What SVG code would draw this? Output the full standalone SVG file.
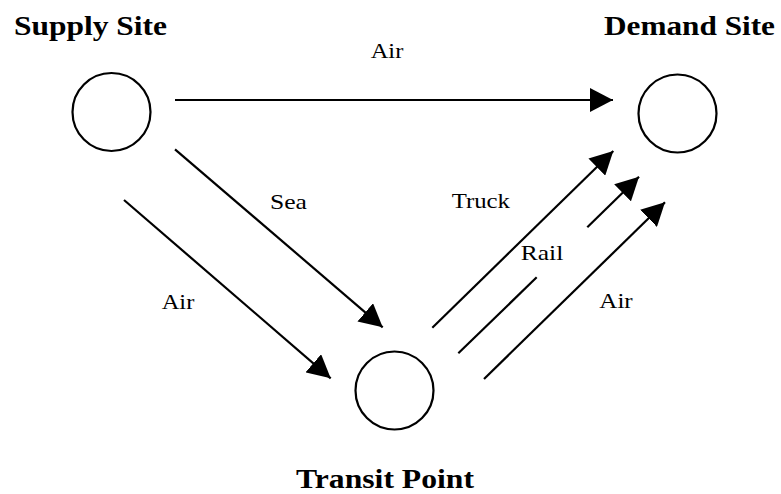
<svg xmlns="http://www.w3.org/2000/svg" width="781" height="494" viewBox="0 0 781 494">
<style>
.node{fill:none;stroke:#000;stroke-width:2.2}
.title{font-family:'Liberation Serif','DejaVu Serif','Times New Roman',serif;font-weight:bold;font-size:28px;fill:#000}
.lbl{font-family:'Liberation Serif','DejaVu Serif','Times New Roman',serif;font-size:21px;fill:#000}
.edge{stroke:#000;stroke-width:2.2;fill:none;marker-end:url(#ah)}
.seg{stroke:#000;stroke-width:2.2;fill:none}
</style>
<defs>
<marker id="ah" markerUnits="userSpaceOnUse" markerWidth="24" markerHeight="24" refX="23" refY="12" orient="auto" viewBox="0 0 24 24">
<path d="M0,0 L23,12 L0,24 Z" fill="#000"/>
</marker>
</defs>
<rect width="781" height="494" fill="#fff"/>
<g id="supply">
<circle class="node" cx="111.5" cy="112" r="39"/>
<text class="title" x="14" y="35" textLength="153" lengthAdjust="spacingAndGlyphs">Supply Site</text>
</g>
<g id="demand">
<circle class="node" cx="677.5" cy="113.5" r="39"/>
<text class="title" x="604" y="35" textLength="171" lengthAdjust="spacingAndGlyphs">Demand Site</text>
</g>
<g id="transit">
<circle class="node" cx="394.5" cy="390.5" r="39"/>
<text class="title" x="296" y="488" textLength="178" lengthAdjust="spacingAndGlyphs">Transit Point</text>
</g>
<g id="connectors">
<line class="edge" x1="175" y1="100" x2="613" y2="100"/>
<line class="edge" x1="175" y1="149.3" x2="382.7" y2="327.3"/>
<line class="edge" x1="124" y1="200" x2="330.7" y2="378.3"/>
<line class="edge" x1="432.3" y1="327.7" x2="613.3" y2="151"/>
<line class="seg" x1="458.3" y1="353.3" x2="536.7" y2="277.3"/>
<line class="edge" x1="587.3" y1="227.3" x2="639" y2="176.7"/>
<line class="edge" x1="484" y1="379" x2="665" y2="202.3"/>
<text class="lbl" x="370.7" y="58.3" textLength="32.6" lengthAdjust="spacingAndGlyphs">Air</text>
<text class="lbl" x="270" y="209.3" textLength="37" lengthAdjust="spacingAndGlyphs">Sea</text>
<text class="lbl" x="161.7" y="309.3" textLength="32.6" lengthAdjust="spacingAndGlyphs">Air</text>
<text class="lbl" x="451.7" y="208.3" textLength="58.3" lengthAdjust="spacingAndGlyphs">Truck</text>
<text class="lbl" x="520.7" y="260" textLength="42.6" lengthAdjust="spacingAndGlyphs">Rail</text>
<text class="lbl" x="599.3" y="308.3" textLength="33.4" lengthAdjust="spacingAndGlyphs">Air</text>
</g>
</svg>
